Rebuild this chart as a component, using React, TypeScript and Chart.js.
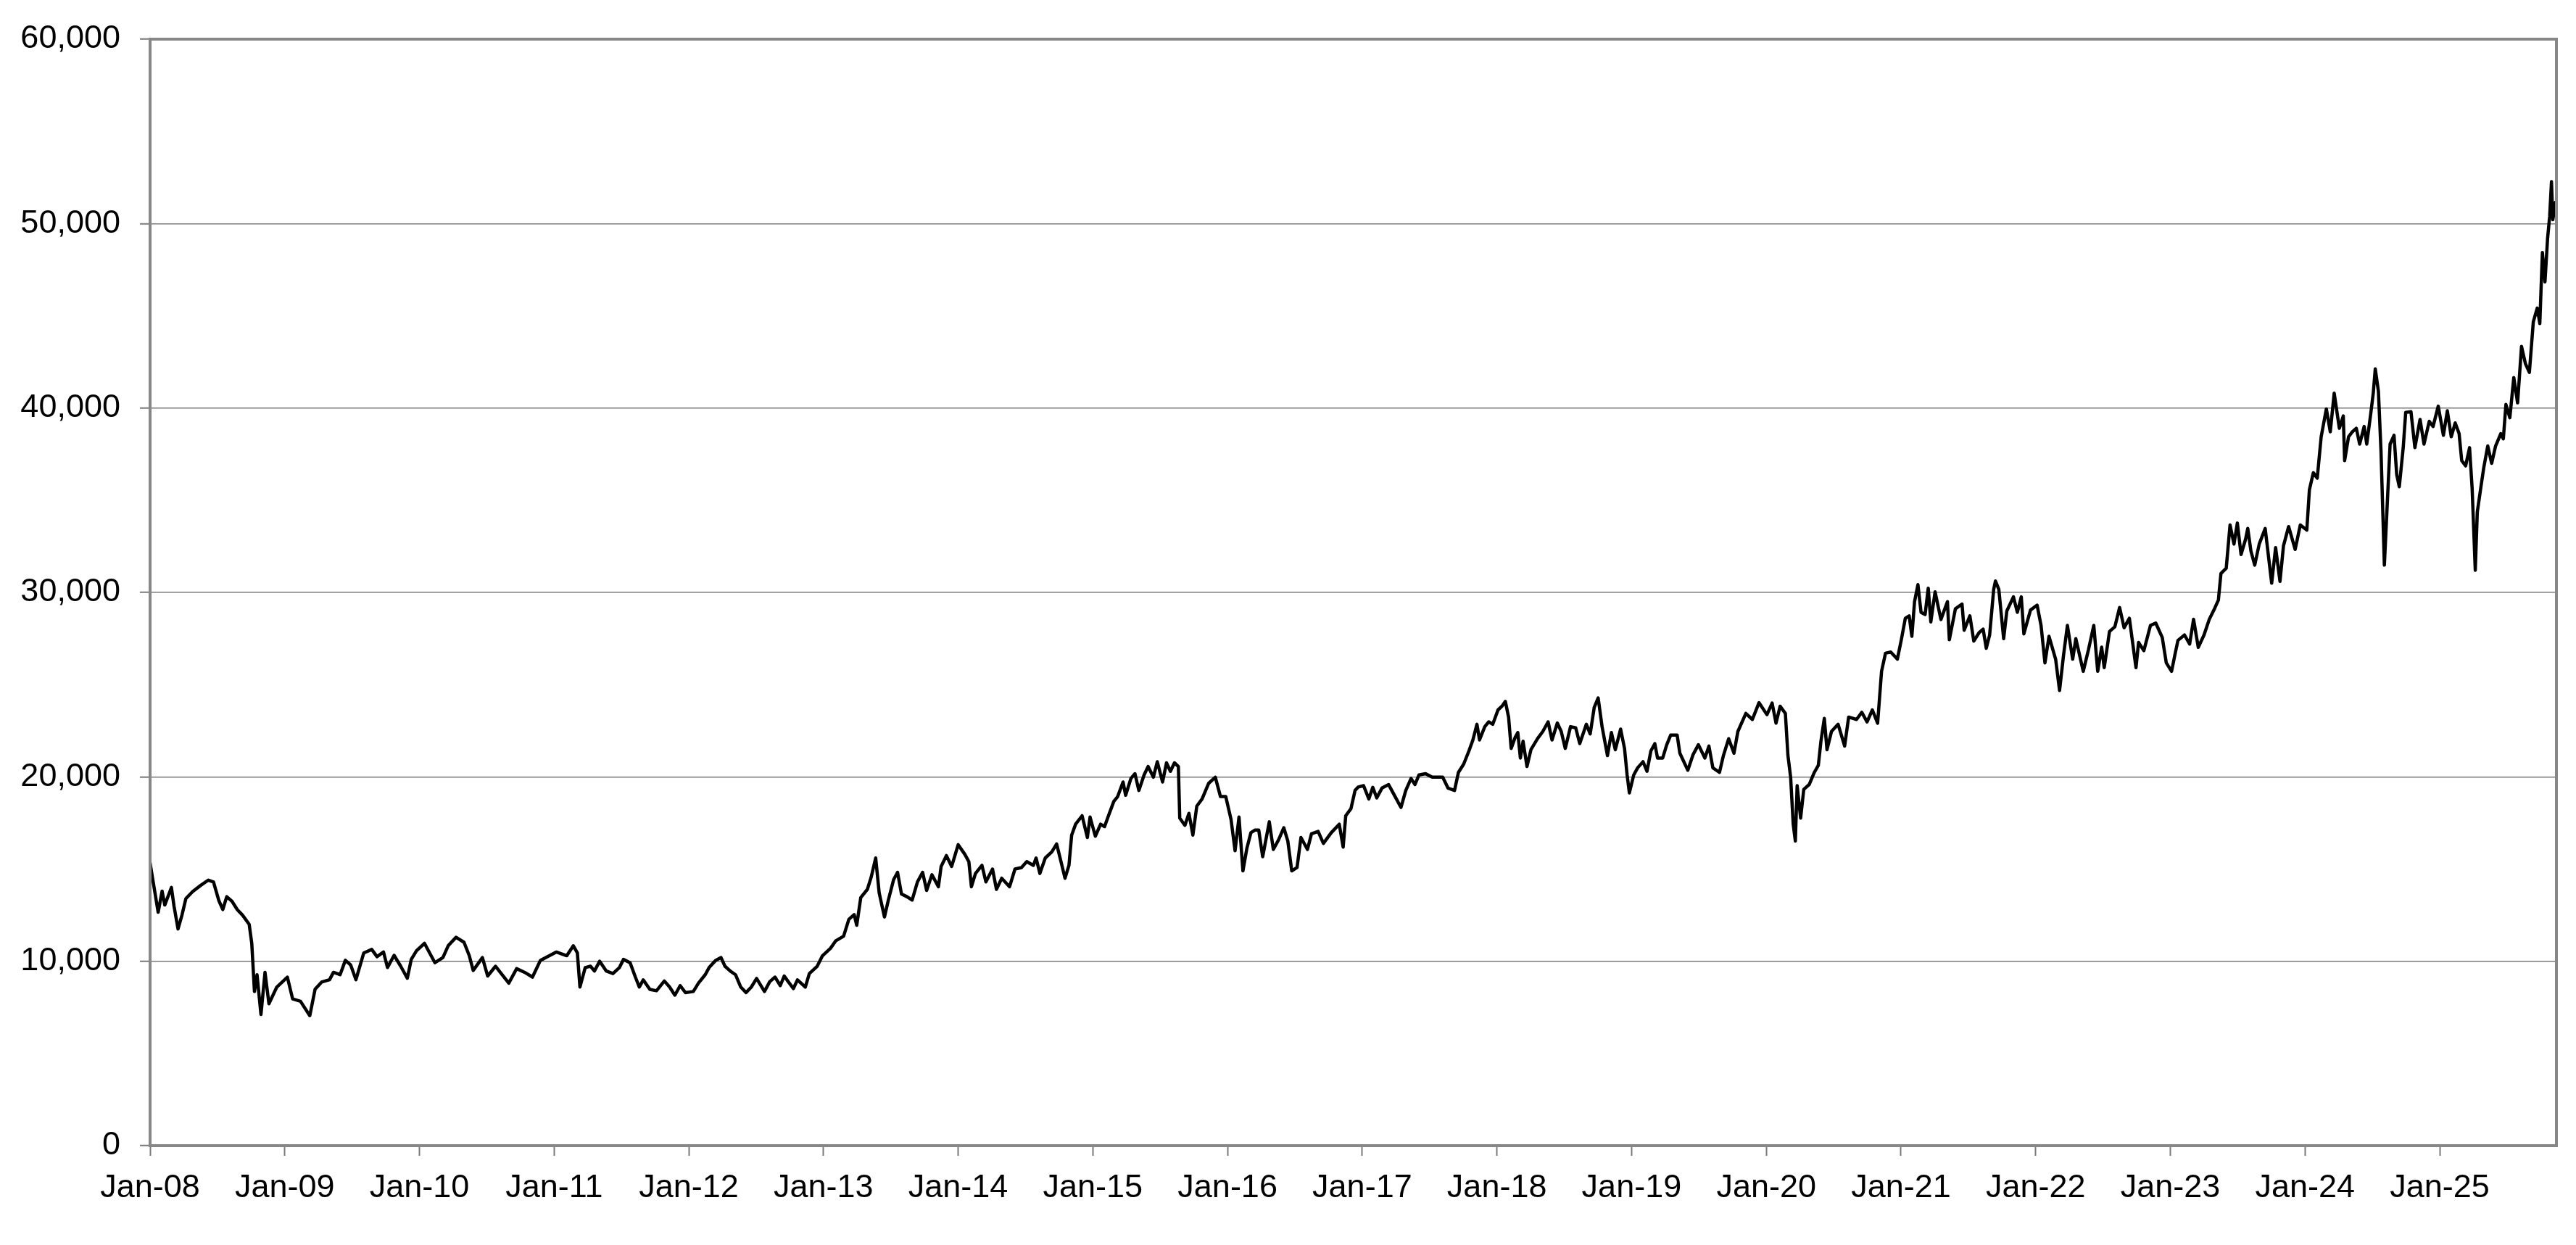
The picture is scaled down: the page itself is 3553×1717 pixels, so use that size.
import { useEffect, useRef } from "react";
import { Chart, registerables } from "chart.js";
Chart.register(...registerables);

// ── Data (x = months since Jan 2008, y = index level) ────────────────────────

const seg2008: [number, number][] = [
  [0, 15340], [0.25, 14400], [0.72, 12660], [1.07, 13800], [1.31, 13050], [1.9, 14000],
  [2.13, 13000], [2.49, 11750], [2.84, 12500], [3.19, 13400], [3.78, 13770], [4.48, 14100],
  [5.19, 14400], [5.65, 14300], [6.12, 13300], [6.48, 12800], [6.83, 13500], [7.3, 13250],
  [7.77, 12800], [8.24, 12500], [8.83, 12000], [9.06, 10970], [9.3, 8360], [9.53, 9270],
  [9.88, 7120], [10.24, 9400], [10.59, 7700], [11.29, 8600], [12.23, 9140], [12.7, 7960],
  [13.4, 7830], [14.23, 7050], [14.7, 8480], [15.28, 8870], [15.99, 9000], [16.34, 9400],
  [16.93, 9270], [17.4, 10050], [17.87, 9800], [18.34, 9000], [19.04, 10450], [19.75, 10640],
  [20.22, 10250], [20.8, 10500], [21.15, 9660], [21.74, 10320], [22.33, 9730], [22.92, 9080],
  [23.27, 10100], [23.74, 10570], [24.45, 10970], [24.91, 10450], [25.38, 9920], [26.09, 10200],
  [26.56, 10840], [27.26, 11300], [27.97, 11030], [28.44, 10300], [28.79, 9500], [29.61, 10200],
  [30.08, 9200], [30.78, 9730], [31.96, 8810], [32.66, 9600], [33.37, 9400], [34.07, 9140],
  [34.78, 10050], [36.19, 10500],
];

const seg2011: [number, number][] = [
  [37.13, 10300], [37.71, 10840], [38.07, 10450], [38.3, 8600], [38.77, 9660], [39.24, 9730],
  [39.59, 9470], [40.06, 10000], [40.65, 9470], [41.24, 9330], [41.82, 9660], [42.18, 10100],
  [42.77, 9920], [43.24, 9140], [43.59, 8600], [43.94, 8990], [44.53, 8470], [45.12, 8400],
  [45.82, 8930], [46.29, 8600], [46.76, 8160], [47.23, 8680], [47.7, 8300], [48.4, 8360],
  [48.87, 8820], [49.46, 9270], [49.81, 9660], [50.4, 10050], [50.87, 10200], [51.22, 9730],
  [51.69, 9470], [52.16, 9270], [52.63, 8600], [53.1, 8300], [53.57, 8600], [54.04, 9070],
  [54.74, 8360], [55.21, 8890], [55.68, 9140], [56.15, 8680], [56.5, 9200], [56.86, 8890],
  [57.32, 8520], [57.68, 8990], [58.38, 8600], [58.74, 9330], [59.44, 9730], [59.91, 10300],
  [60.62, 10700], [61.08, 11100], [61.79, 11360], [62.26, 12270], [62.73, 12530], [62.96, 11950],
  [63.32, 13450], [63.91, 13900], [64.25, 14560], [64.65, 15600], [64.96, 13710], [65.43, 12400],
  [65.78, 13320], [66.25, 14430], [66.6, 14820], [66.95, 13640], [67.43, 13500], [67.9, 13320],
  [68.37, 14300], [68.83, 14820], [69.19, 13840], [69.66, 14690], [70.24, 14040], [70.48, 15140],
  [70.95, 15730], [71.42, 15140], [72.0, 16320],
];

const seg2014: [number, number][] = [
  [72.59, 15800], [72.95, 15400], [73.18, 14040], [73.54, 14760], [74.12, 15200], [74.47, 14300],
  [75.06, 15000], [75.41, 13900], [75.88, 14500], [76.58, 14040], [77.06, 15000], [77.64, 15080],
  [78.11, 15400], [78.7, 15200], [78.94, 15600], [79.28, 14760], [79.76, 15600], [80.34, 15930],
  [80.77, 16360], [81.16, 15400], [81.52, 14500], [81.87, 15200], [82.11, 16840], [82.46, 17430],
  [83.04, 17890], [83.51, 16710], [83.75, 17820], [84.22, 16780], [84.69, 17430], [85.04, 17300],
  [85.39, 17890], [85.87, 18670], [86.21, 18930], [86.69, 19720], [86.92, 19000], [87.39, 19910],
  [87.75, 20170], [88.1, 19260], [88.57, 20110], [88.92, 20560], [89.39, 19980], [89.74, 20820],
  [90.21, 19720], [90.56, 20760], [90.91, 20300], [91.27, 20760], [91.62, 20560], [91.74, 17760],
  [92.2, 17370], [92.56, 18020], [92.91, 16840], [93.26, 18410], [93.73, 18800], [94.32, 19650],
  [94.91, 19980], [95.37, 18930], [95.84, 18930], [96.31, 17690], [96.67, 15990], [97.02, 17820],
  [97.37, 14900], [97.72, 16120], [98.08, 16970], [98.43, 17110], [98.78, 17110], [99.13, 15670],
  [99.72, 17560], [100.08, 16060], [100.54, 16580], [101.01, 17240], [101.37, 16520], [101.72, 14900],
  [102.19, 15080], [102.54, 16710], [103.12, 16060], [103.48, 16910], [104.07, 17040], [104.54, 16390],
  [105.24, 16970], [105.95, 17430], [106.3, 16190], [106.53, 17890], [107.0, 18280], [107.36, 19260],
];

const seg2017: [number, number][] = [
  [107.65, 19450], [108.12, 19520], [108.59, 18800], [108.94, 19430], [109.29, 18860], [109.76, 19390],
  [110.35, 19580], [110.58, 19320], [110.93, 18930], [111.45, 18340], [111.88, 19260], [112.35, 19910],
  [112.7, 19580], [113.05, 20100], [113.64, 20170], [114.23, 19980], [115.17, 19980], [115.64, 19390],
  [116.22, 19260], [116.57, 20240], [117.04, 20690], [117.51, 21410], [117.86, 22000], [118.22, 22850],
  [118.45, 22000], [118.92, 22720], [119.27, 22980], [119.63, 22850], [120.1, 23630], [120.45, 23830],
  [120.75, 24090], [121.04, 23240], [121.27, 21540], [121.62, 22130], [121.86, 22400], [122.09, 21020],
  [122.33, 21930], [122.68, 20560], [123.03, 21470], [123.62, 22070], [124.09, 22460], [124.56, 22980],
  [124.91, 22000], [125.38, 22920], [125.73, 22460], [126.09, 21540], [126.56, 22720], [127.02, 22660],
  [127.38, 21800], [127.97, 22850], [128.31, 22330], [128.67, 23760], [129.02, 24280], [129.37, 22720],
  [129.85, 21150], [130.2, 22400], [130.55, 21470], [131.02, 22590], [131.37, 21540], [131.6, 20100],
  [131.8, 19130], [132.19, 20100], [132.54, 20490], [133.02, 20820], [133.37, 20300], [133.72, 21410],
  [134.07, 21800], [134.31, 21020], [134.77, 21020], [135.13, 21740], [135.48, 22260], [136.06, 22260],
  [136.3, 21280], [137.01, 20360], [137.48, 21210], [137.95, 21740], [138.53, 21020], [138.89, 21670],
  [139.24, 20490], [139.83, 20240], [140.18, 21150], [140.65, 22070], [141.12, 21280], [141.47, 22460],
  [142.18, 23440], [142.76, 23110], [143.35, 24020], [144.06, 23370],
];

const seg2020: [number, number][] = [
  [144.52, 24000], [144.87, 22910], [145.23, 23830], [145.7, 23440], [145.93, 21150], [146.17, 19980],
  [146.4, 17430], [146.59, 16520], [146.75, 19520], [147.06, 17760], [147.34, 19320], [147.82, 19580],
  [148.28, 20240], [148.64, 20630], [148.87, 21930], [149.17, 23170], [149.41, 21470], [149.81, 22460],
  [150.4, 22850], [150.98, 21670], [151.34, 23240], [152.04, 23110], [152.51, 23500], [152.98, 22980],
  [153.45, 23630], [153.92, 22910], [154.27, 25720], [154.62, 26700], [155.09, 26770], [155.68, 26380],
  [156.03, 27430], [156.39, 28600], [156.73, 28730], [156.97, 27620], [157.21, 29500], [157.51, 30420],
  [157.79, 28920], [158.15, 28800], [158.43, 30230], [158.66, 28400], [159.04, 30030], [159.56, 28530],
  [160.14, 29500], [160.31, 27430], [160.85, 29110], [161.44, 29370], [161.63, 27950], [162.14, 28730],
  [162.49, 27360], [162.96, 27820], [163.32, 28010], [163.6, 26970], [163.9, 27690], [164.26, 30160],
  [164.42, 30620], [164.72, 30160], [165.15, 27490], [165.43, 28990], [166.02, 29760], [166.37, 28920],
  [166.72, 29760], [166.95, 27750], [167.54, 29040], [168.13, 29310], [168.48, 28210], [168.83, 26180],
  [169.19, 27620], [169.78, 26380], [170.13, 24680], [170.48, 26570], [170.83, 28210], [171.3, 26380],
  [171.58, 27490], [172.24, 25720], [172.71, 26900], [173.18, 28210], [173.53, 25720], [173.88, 27030],
  [174.11, 25920], [174.58, 27880], [175.06, 28140], [175.48, 29180], [175.88, 28080], [176.35, 28600],
  [176.94, 25920], [177.17, 27290], [177.64, 26840], [178.23, 28210], [178.7, 28340], [179.28, 27560],
  [179.64, 26180], [180.11, 25720],
];

const seg2023: [number, number][] = [
  [180.45, 26740], [180.68, 27400], [181.26, 27690], [181.72, 27200], [182.07, 28540], [182.49, 27020],
  [183.0, 27690], [183.47, 28540], [183.93, 29110], [184.28, 29580], [184.51, 31030], [184.98, 31310],
  [185.32, 33660], [185.67, 32620], [185.97, 33760], [186.3, 32050], [186.71, 32900], [186.9, 33470],
  [187.18, 32240], [187.52, 31480], [187.92, 32620], [188.45, 33470], [189.03, 30500], [189.38, 32430],
  [189.77, 30600], [190.08, 32520], [190.54, 33570], [191.12, 32330], [191.58, 33660], [192.16, 33380],
  [192.39, 35560], [192.74, 36490], [193.09, 36200], [193.44, 38440], [193.9, 39950], [194.25, 38710],
  [194.6, 40800], [195.06, 38900], [195.41, 39570], [195.53, 37150], [195.88, 38440], [196.22, 38710],
  [196.57, 38900], [196.87, 38040], [197.27, 39000], [197.5, 38040], [197.85, 39660], [198.08, 40800],
  [198.26, 42120], [198.54, 40900], [198.77, 37660], [199.07, 31480], [199.35, 35090], [199.58, 38040],
  [199.93, 38520], [200.17, 36390], [200.4, 35730], [200.75, 37850], [200.97, 39760], [201.44, 39800],
  [201.79, 37850], [202.25, 39380], [202.6, 38040], [203.07, 39280], [203.41, 39000], [203.87, 40100],
  [204.33, 38520], [204.68, 39850], [205.03, 38440], [205.38, 39190], [205.73, 38610], [205.96, 37150],
  [206.31, 36860], [206.66, 37850], [206.89, 35650], [207.17, 31200], [207.35, 34360], [207.7, 35840],
  [207.93, 36780], [208.28, 37940], [208.63, 37000], [208.98, 37940], [209.44, 38610], [209.67, 38330],
  [209.9, 40190], [210.25, 39470], [210.6, 41650], [210.94, 40280], [211.29, 43340], [211.64, 42400],
  [211.99, 41930], [212.34, 44670], [212.69, 45420], [212.92, 44580], [213.15, 48430], [213.38, 46840],
  [213.61, 49180], [213.8, 50400], [213.96, 52270], [214.08, 50210], [214.31, 51150],
];

const xTickLabels = [
  "Jan-08", "Jan-09", "Jan-10", "Jan-11", "Jan-12", "Jan-13", "Jan-14", "Jan-15", "Jan-16",
  "Jan-17", "Jan-18", "Jan-19", "Jan-20", "Jan-21", "Jan-22", "Jan-23", "Jan-24", "Jan-25",
];
const xTickMonths = xTickLabels.map((_, i) => i * 12);
const yTicks = [0, 10000, 20000, 30000, 40000, 50000, 60000];

// ── Styling ──────────────────────────────────────────────────────────────────

const FONT = "'Liberation Sans', Arial, Helvetica, sans-serif";
const FRAME = "#878787";
const GRID = "#7a7a7a";

const frame = {
  id: "frame",
  afterDatasetsDraw(chart: Chart) {
    const { ctx, chartArea: a } = chart;
    ctx.save();
    ctx.strokeStyle = FRAME;
    ctx.lineWidth = 4;
    ctx.strokeRect(a.left, a.top, a.right - a.left, a.bottom - a.top);
    ctx.restore();
  },
};

function IndexChart() {
  const ref = useRef<HTMLCanvasElement>(null);
  const chartRef = useRef<Chart | null>(null);

  useEffect(() => {
    if (!ref.current) return;
    chartRef.current?.destroy();

    const points = [...seg2008, ...seg2011, ...seg2014, ...seg2017, ...seg2020, ...seg2023]
      .map(([x, y]) => ({ x, y }));

    chartRef.current = new Chart(ref.current, {
      type: "line",
      data: {
        datasets: [{
          data: points,
          borderColor: "#000",
          borderWidth: 4.5,
          borderJoinStyle: "round",
          borderCapStyle: "round",
          pointRadius: 0,
          tension: 0,
          fill: false,
        }],
      },
      options: {
        animation: false,
        responsive: true,
        maintainAspectRatio: false,
        layout: { padding: { top: 48, right: 27, left: 0, bottom: 0 } },
        plugins: { legend: { display: false }, tooltip: { enabled: false } },
        scales: {
          x: {
            type: "linear",
            min: 0,
            max: 214.4,
            afterBuildTicks: (s: any) => { s.ticks = xTickMonths.map((v) => ({ value: v })); },
            afterFit: (s: any) => { s.height = 137; },
            ticks: {
              autoSkip: false,
              maxRotation: 0,
              padding: 18,
              color: "#000",
              font: { family: FONT, size: 45 },
              callback: (v) => xTickLabels[xTickMonths.indexOf(Number(v))] ?? "",
            },
            grid: { drawOnChartArea: false, drawTicks: true, tickLength: 14, tickColor: GRID, tickWidth: 2 },
            border: { display: false },
          },
          y: {
            min: 0,
            max: 60000,
            afterBuildTicks: (s: any) => { s.ticks = yTicks.map((v) => ({ value: v })); },
            afterFit: (s: any) => { s.width = 207; },
            ticks: {
              padding: 27,
              color: "#000",
              font: { family: FONT, size: 45 },
              callback: (v) => Number(v).toLocaleString("en-US"),
            },
            grid: { color: GRID, lineWidth: 1.5, tickLength: 14, tickColor: GRID, tickWidth: 2 },
            border: { display: false },
          },
        },
      },
      plugins: [frame],
    });

    return () => chartRef.current?.destroy();
  }, []);

  return <canvas ref={ref} />;
}

export default function App() {
  useEffect(() => {
    document.body.style.margin = "0";
  }, []);
  return (
    <div style={{ width: 3553, height: 1717, position: "relative", background: "#fff" }}>
      <IndexChart />
    </div>
  );
}
